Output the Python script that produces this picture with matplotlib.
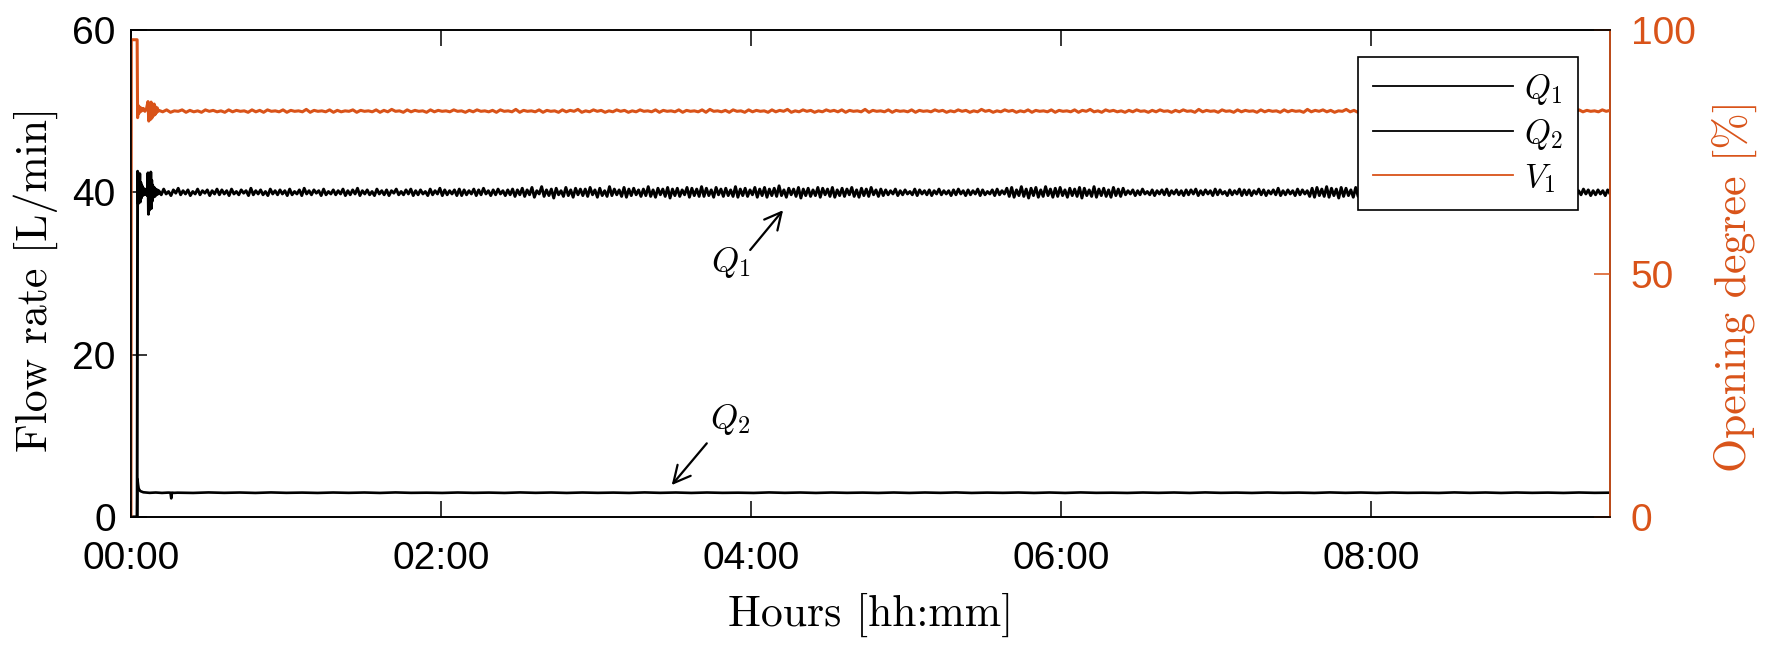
import numpy as np
import matplotlib
matplotlib.use('Agg')
import matplotlib.pyplot as plt
from matplotlib.lines import Line2D

plt.rcParams['font.family'] = ['Liberation Sans', 'DejaVu Sans']
plt.rcParams['mathtext.fontset'] = 'cm'

ORANGE = '#D95319'

# ---------------- data (hours, L/min, %) ----------------
xticks = [0, 2, 4, 6, 8]
xtick_labels = ['00:00', '02:00', '04:00', '06:00', '08:00']
yticks_left = [0, 20, 40, 60]
yticks_right = [0, 50, 100]
t_end = 9.54

# start-up transient of Q1
t_q1_start = [0.0, 0.040, 0.043, 0.047, 0.050, 0.053, 0.057, 0.060, 0.064, 0.068,
              0.072, 0.076, 0.080, 0.085, 0.090, 0.095, 0.100, 0.105, 0.110, 0.113,
              0.116, 0.119, 0.122, 0.125, 0.128, 0.131, 0.134, 0.137, 0.140, 0.145,
              0.150, 0.155, 0.160, 0.165, 0.170, 0.175]
q1_start = [0.0, 0.0, 42.6, 38.6, 41.8, 39.0, 42.3, 38.8, 41.2, 39.3,
            40.8, 39.6, 40.5, 39.7, 40.4, 39.8, 40.3, 39.6, 42.4, 37.3,
            42.2, 37.8, 41.9, 38.2, 42.5, 38.0, 41.5, 38.9, 40.9, 39.4,
            40.6, 39.5, 40.4, 39.7, 40.3, 39.8]
# steady part of Q1 (0.18 h .. end)
q1_steady = [
    40.2, 39.7, 40.4, 39.8, 40.1, 39.6, 40.3, 39.9, 40.5, 39.7, 40.2, 39.8, 40.3, 39.6, 40.1, 39.8, 40.4, 39.7, 40.2, 39.9, 40.3, 39.6, 40.2, 39.8, 40.4,
    39.7, 40.3, 39.8, 40.2, 39.6, 40.4, 39.8, 40.1, 39.7, 40.3, 39.9, 40.2, 39.6, 40.5, 39.7, 40.2, 39.8, 40.3, 39.7, 40.1, 39.6, 40.4, 39.8, 40.2, 39.7,
    40.3, 39.8, 40.2, 39.6, 40.4, 39.7, 40.1, 39.8, 40.3, 39.6, 40.5, 39.8, 40.2, 39.7, 40.3, 39.9, 40.2, 39.6, 40.4, 39.7, 40.1, 39.8, 40.3, 39.7, 40.2,
    39.8, 40.4, 39.6, 40.2, 39.7, 40.3, 39.8, 40.5, 39.6, 40.2, 39.8, 40.3, 39.7, 40.1, 39.6, 40.4, 39.8, 40.2, 39.7, 40.3, 39.6, 40.2, 39.9, 40.4, 39.7,
    40.1, 39.7, 40.3, 39.8, 40.4, 39.6, 40.2, 39.7, 40.3, 39.8, 40.1, 39.6, 40.4, 39.7, 40.2, 39.8, 40.5, 39.6, 40.3, 39.7, 40.2, 39.8, 40.3, 39.6, 40.4,
    39.6, 40.3, 39.7, 40.2, 39.8, 40.4, 39.6, 40.3, 39.7, 40.5, 39.8, 40.2, 39.6, 40.3, 39.7, 40.4, 39.8, 40.2, 39.6, 40.3, 39.7, 40.4, 39.5, 40.3, 39.7,
    40.5, 39.5, 40.3, 39.7, 40.6, 39.4, 40.2, 39.8, 40.7, 39.5, 40.3, 39.6, 40.4, 39.3, 40.5, 39.7, 40.2, 39.5, 40.6, 39.6, 40.3, 39.4, 40.5, 39.7, 40.4,
    39.6, 40.4, 39.5, 40.6, 39.7, 40.3, 39.4, 40.5, 39.6, 40.2, 39.5, 40.7, 39.6, 40.4, 39.7, 40.3, 39.5, 40.6, 39.4, 40.4, 39.6, 40.5, 39.7, 40.3, 39.5,
    40.4, 39.6, 40.7, 39.5, 40.3, 39.4, 40.5, 39.7, 40.4, 39.5, 40.6, 39.3, 40.4, 39.6, 40.5, 39.5, 40.3, 39.7, 40.6, 39.4, 40.5, 39.6, 40.4, 39.5, 40.7,
    39.5, 40.5, 39.6, 40.3, 39.4, 40.6, 39.7, 40.4, 39.5, 40.5, 39.6, 40.3, 39.5, 40.7, 39.4, 40.4, 39.6, 40.5, 39.5, 40.3, 39.7, 40.6, 39.4, 40.4, 39.6,
    40.6, 39.4, 40.4, 39.6, 40.5, 39.5, 40.8, 39.6, 40.3, 39.4, 40.5, 39.7, 40.4, 39.5, 40.6, 39.3, 40.4, 39.6, 40.5, 39.5, 40.3, 39.6, 40.6, 39.4, 40.5,
    39.7, 40.4, 39.5, 40.6, 39.4, 40.3, 39.6, 40.5, 39.5, 40.4, 39.7, 40.6, 39.5, 40.3, 39.4, 40.5, 39.6, 40.4, 39.5, 40.6, 39.7, 40.3, 39.5, 40.4, 39.6,
    40.3, 39.7, 40.2, 39.8, 40.4, 39.6, 40.2, 39.7, 40.3, 39.8, 40.1, 39.7, 40.4, 39.6, 40.3, 39.8, 40.2, 39.7, 40.3, 39.6, 40.2, 39.8, 40.4, 39.7, 40.2,
    39.8, 40.2, 39.6, 40.3, 39.7, 40.4, 39.8, 40.2, 39.6, 40.3, 39.7, 40.2, 39.8, 40.4, 39.6, 40.3, 39.7, 40.1, 39.8, 40.3, 39.6, 40.4, 39.7, 40.2, 39.8,
    40.5, 39.5, 40.6, 39.4, 40.3, 39.6, 40.7, 39.5, 40.4, 39.3, 40.5, 39.6, 40.6, 39.4, 40.3, 39.5, 40.7, 39.6, 40.4, 39.4, 40.5, 39.5, 40.6, 39.6, 40.3,
    39.4, 40.5, 39.6, 40.4, 39.5, 40.6, 39.3, 40.5, 39.6, 40.3, 39.5, 40.7, 39.4, 40.4, 39.6, 40.5, 39.5, 40.3, 39.4, 40.6, 39.6, 40.4, 39.5, 40.5, 39.7,
    40.2, 39.8, 40.3, 39.6, 40.2, 39.7, 40.4, 39.8, 40.1, 39.7, 40.3, 39.6, 40.2, 39.8, 40.3, 39.7, 40.4, 39.6, 40.2, 39.8, 40.3, 39.7, 40.2, 39.6, 40.3,
    39.7, 40.3, 39.8, 40.4, 39.6, 40.2, 39.7, 40.3, 39.8, 40.2, 39.6, 40.4, 39.7, 40.3, 39.8, 40.1, 39.6, 40.3, 39.7, 40.2, 39.8, 40.4, 39.6, 40.3, 39.7,
    40.3, 39.6, 40.2, 39.8, 40.4, 39.7, 40.3, 39.6, 40.2, 39.8, 40.3, 39.7, 40.5, 39.6, 40.2, 39.7, 40.3, 39.8, 40.2, 39.6, 40.4, 39.7, 40.3, 39.8, 40.2,
    39.5, 40.5, 39.4, 40.6, 39.6, 40.4, 39.5, 40.7, 39.4, 40.5, 39.6, 40.4, 39.3, 40.6, 39.5, 40.5, 39.6, 40.3, 39.4, 40.6, 39.5, 40.5, 39.6, 40.7, 39.4,
    40.4, 39.5, 40.6, 39.6, 40.5, 39.4, 40.3, 39.5, 40.6, 39.3, 40.5, 39.6, 40.4, 39.5, 40.7, 39.4, 40.5, 39.6, 40.4, 39.5, 40.6, 39.4, 40.3, 39.6, 40.5,
    39.6, 40.4, 39.5, 40.6, 39.4, 40.5, 39.6, 40.3, 39.5, 40.6, 39.4, 40.5, 39.6, 40.4, 39.5, 40.6, 39.3, 40.4, 39.6, 40.5, 39.5, 40.3, 39.6, 40.5, 39.5,
    40.3, 39.7, 40.4, 39.6, 40.2, 39.8, 40.3, 39.7, 40.4, 39.6, 40.2, 39.7, 40.3, 39.8, 40.2, 39.6, 40.4, 39.7, 40.3, 39.8, 40.2, 39.6, 40.3, 39.7, 40.4,
    39.7, 40.2, 39.8, 40.3, 39.6, 40.4, 39.7, 40.2, 39.8, 40.3, 39.6, 40.2, 39.7, 40.4, 39.8, 40.3, 39.6, 40.2, 39.7, 40.3, 39.8, 40.2, 39.6, 40.3, 39.8,
]

# start-up transient of Q2
t_q2_start = [0.0, 0.040, 0.042, 0.046, 0.050, 0.060, 0.080, 0.120, 0.160, 0.200,
              0.240, 0.255, 0.260, 0.265, 0.280]
q2_start = [0.0, 0.0, 4.7, 4.0, 3.5, 3.2, 3.05, 2.98, 3.02, 2.97,
            3.01, 3.0, 2.3, 3.0, 2.98]
# steady part of Q2 (0.30 h .. end)
q2_steady = [
    3.00, 2.97, 3.03, 2.98, 3.02, 2.97, 3.03, 2.98, 3.01, 2.97, 3.02, 2.98, 3.02, 2.97, 3.03, 2.98, 3.00, 2.97, 3.02, 2.98, 3.01, 2.97, 3.03,
    2.98, 3.02, 2.97, 3.02, 2.98, 3.01, 2.97, 3.03, 2.98, 3.02, 2.97, 3.02, 2.98, 3.00, 2.97, 3.03, 2.98, 3.02, 2.97, 3.02, 2.98, 3.01, 2.97,
    3.02, 2.97, 3.02, 2.98, 3.03, 2.97, 3.01, 2.98, 3.02, 2.97, 3.02, 2.97, 3.03, 2.98, 3.00, 2.97, 3.02, 2.98, 3.02, 2.97, 3.03, 2.98, 3.01,
    2.97, 3.02, 2.98, 3.01, 2.97, 3.03, 2.98, 3.02, 2.97, 3.02, 2.98, 3.00, 2.97, 3.03, 2.98, 3.02, 2.97, 3.02, 2.98, 3.01, 2.97, 3.02, 2.98,
    3.00,
]

# start-up transient of valve opening V1
t_v1_start = [0.0, 0.002, 0.040, 0.043, 0.047, 0.050, 0.055, 0.060, 0.065, 0.070,
              0.080, 0.090, 0.100, 0.110, 0.115, 0.120, 0.125, 0.130, 0.135, 0.140,
              0.145, 0.150, 0.155, 0.160, 0.165, 0.170, 0.175]
v1_start = [0.0, 98.0, 98.0, 82.0, 84.5, 82.8, 84.2, 83.2, 84.0, 83.4,
            83.9, 83.3, 83.8, 85.3, 81.3, 84.9, 81.6, 85.2, 81.9, 84.6,
            82.4, 84.8, 82.6, 84.2, 83.0, 84.0, 83.3]
# steady part of V1 (0.18 h .. end)
v1_steady = [
    83.5, 83.2, 83.6, 83.1, 83.4, 83.3, 83.6, 83.1, 83.5, 83.2, 83.4, 83.1, 83.6, 83.3, 83.5, 83.2, 83.4, 83.1, 83.6, 83.2, 83.5, 83.3, 83.4, 83.1, 83.6,
    83.2, 83.5, 83.1, 83.6, 83.3, 83.4, 83.2, 83.6, 83.1, 83.5, 83.3, 83.4, 83.2, 83.7, 83.1, 83.5, 83.3, 83.4, 83.2, 83.6, 83.1, 83.5, 83.2, 83.4, 83.3,
    83.6, 83.1, 83.5, 83.3, 83.4, 83.2, 83.6, 83.1, 83.5, 83.2, 83.7, 83.3, 83.4, 83.1, 83.6, 83.2, 83.5, 83.3, 83.4, 83.1, 83.6, 83.2, 83.5, 83.3, 83.4,
    83.2, 83.6, 83.3, 83.4, 83.1, 83.5, 83.2, 83.6, 83.3, 83.4, 83.2, 83.5, 83.1, 83.6, 83.3, 83.4, 83.2, 83.7, 83.1, 83.5, 83.3, 83.4, 83.2, 83.6, 83.1,
    83.5, 83.3, 83.4, 83.1, 83.6, 83.2, 83.5, 83.3, 83.7, 83.1, 83.4, 83.2, 83.6, 83.3, 83.5, 83.1, 83.4, 83.2, 83.6, 83.3, 83.5, 83.1, 83.4, 83.2, 83.6,
    83.3, 83.4, 83.2, 83.6, 83.1, 83.5, 83.3, 83.4, 83.2, 83.6, 83.1, 83.5, 83.3, 83.4, 83.2, 83.6, 83.1, 83.7, 83.3, 83.4, 83.2, 83.5, 83.1, 83.6, 83.3,
    83.4, 83.1, 83.6, 83.2, 83.5, 83.3, 83.4, 83.1, 83.6, 83.2, 83.5, 83.3, 83.7, 83.1, 83.4, 83.2, 83.6, 83.3, 83.5, 83.1, 83.4, 83.2, 83.6, 83.3, 83.5,
    83.2, 83.6, 83.1, 83.5, 83.3, 83.4, 83.2, 83.7, 83.1, 83.5, 83.3, 83.4, 83.2, 83.6, 83.1, 83.5, 83.3, 83.4, 83.2, 83.6, 83.1, 83.5, 83.3, 83.4, 83.2,
    83.6, 83.3, 83.5, 83.1, 83.4, 83.2, 83.6, 83.3, 83.5, 83.1, 83.4, 83.2, 83.7, 83.3, 83.5, 83.1, 83.4, 83.2, 83.6, 83.3, 83.5, 83.1, 83.4, 83.2, 83.6,
    83.1, 83.5, 83.3, 83.4, 83.2, 83.6, 83.1, 83.5, 83.3, 83.4, 83.2, 83.6, 83.1, 83.5, 83.3, 83.7, 83.2, 83.4, 83.1, 83.6, 83.3, 83.5, 83.2, 83.4, 83.1,
    83.5, 83.2, 83.6, 83.3, 83.4, 83.1, 83.5, 83.2, 83.6, 83.3, 83.4, 83.1, 83.5, 83.2, 83.6, 83.3, 83.4, 83.1, 83.7, 83.2, 83.5, 83.3, 83.4, 83.1, 83.6,
    83.3, 83.4, 83.1, 83.6, 83.2, 83.5, 83.3, 83.4, 83.1, 83.6, 83.2, 83.5, 83.3, 83.4, 83.1, 83.6, 83.2, 83.5, 83.3, 83.4, 83.1, 83.7, 83.2, 83.5, 83.3,
    83.6, 83.2, 83.5, 83.1, 83.4, 83.3, 83.7, 83.2, 83.5, 83.1, 83.6, 83.3, 83.4, 83.2, 83.5, 83.1, 83.6, 83.3, 83.4, 83.2, 83.7, 83.1, 83.5, 83.3, 83.4,
    83.2, 83.5, 83.3, 83.6, 83.1, 83.4, 83.2, 83.5, 83.3, 83.6, 83.1, 83.4, 83.2, 83.7, 83.3, 83.5, 83.1, 83.4, 83.2, 83.6, 83.3, 83.5, 83.1, 83.4, 83.2,
    83.5, 83.3, 83.4, 83.1, 83.6, 83.2, 83.5, 83.3, 83.4, 83.1, 83.6, 83.2, 83.5, 83.3, 83.4, 83.1, 83.6, 83.2, 83.5, 83.3, 83.4, 83.2, 83.6, 83.3, 83.5,
]

# time stamps of the steady parts (uniform sampling)
t_q1 = np.concatenate([t_q1_start, np.linspace(0.18, t_end, len(q1_steady))])
q1 = np.concatenate([q1_start, q1_steady])
t_q2 = np.concatenate([t_q2_start, np.linspace(0.30, t_end, len(q2_steady))])
q2 = np.concatenate([q2_start, q2_steady])
t_v1 = np.concatenate([t_v1_start, np.linspace(0.18, t_end, len(v1_steady))])
v1 = np.concatenate([v1_start, v1_steady])

# ---------------- figure ----------------
fig = plt.figure(figsize=(17.67, 6.45), dpi=100)
ax = fig.add_axes([0.0741, 0.1984, 0.8371, 0.7551])
ax2 = ax.twinx()

ax.plot(t_q1, q1, color='k', lw=2.1)
ax.plot(t_q2, q2, color='k', lw=1.9)
ax2.plot(t_v1, v1, color=ORANGE, lw=2.2)

ax.set_xlim(0, t_end)
ax.set_ylim(0, 60)
ax2.set_ylim(0, 100)
ax.set_xticks(xticks)
ax.set_xticklabels(xtick_labels)
ax.set_yticks(yticks_left)
ax2.set_yticks(yticks_right)

ax.tick_params(axis='both', direction='in', length=11.5, width=1.1,
               labelsize=28, top=True, right=False, colors='k')
ax.tick_params(axis='y', pad=11)
ax.tick_params(axis='x', pad=17)
ax2.tick_params(axis='y', direction='in', length=11.5, width=1.1,
                labelsize=28, colors=ORANGE, pad=15)

for sp in ax.spines.values():
    sp.set_linewidth(1.2)
for sp in ax2.spines.values():
    sp.set_linewidth(1.2)
ax2.spines['right'].set_color(ORANGE)

LBL = dict(fontsize=31.5, family='cmr10')
ax.set_xlabel('Hours [hh:mm]', **LBL)
ax.xaxis.set_label_coords(0.5003, -0.156)
ax.set_ylabel('Flow rate [L/min]', **LBL)
ax.yaxis.set_label_coords(-0.0496, 0.488)
ax2.set_ylabel('Opening degree [%]', color=ORANGE, **LBL)
ax2.yaxis.set_label_coords(1.069, 0.475)

# annotations
ARW = dict(arrowstyle='->,head_length=0.55,head_width=0.28',
           color='k', lw=1.6, mutation_scale=22, shrinkA=0, shrinkB=0)
ax.annotate('', xy=(4.206, 37.8), xytext=(3.994, 32.9), arrowprops=ARW)
ax.text(3.87, 31.4, r'$Q_1$', fontsize=25, ha='center', va='center')
ax.annotate('', xy=(3.488, 3.94), xytext=(3.714, 9.08), arrowprops=ARW)
ax.text(3.865, 12.0, r'$Q_2$', fontsize=25, ha='center', va='center')

handles = [Line2D([], [], color='k', lw=1.3),
           Line2D([], [], color='k', lw=1.3),
           Line2D([], [], color=ORANGE, lw=1.3)]
leg = ax2.legend(handles, [r'$Q_1$', r'$Q_2$', r'$V_1$'],
                 loc='upper right', bbox_to_anchor=(0.9784, 0.9446),
                 borderaxespad=0, fontsize=24, frameon=True, fancybox=False,
                 edgecolor='k', framealpha=1, handlelength=4.2,
                 handletextpad=0.33, labelspacing=0.3, borderpad=0.45)
leg.get_frame().set_linewidth(1.2)

fig.savefig('out.png', dpi=100)
